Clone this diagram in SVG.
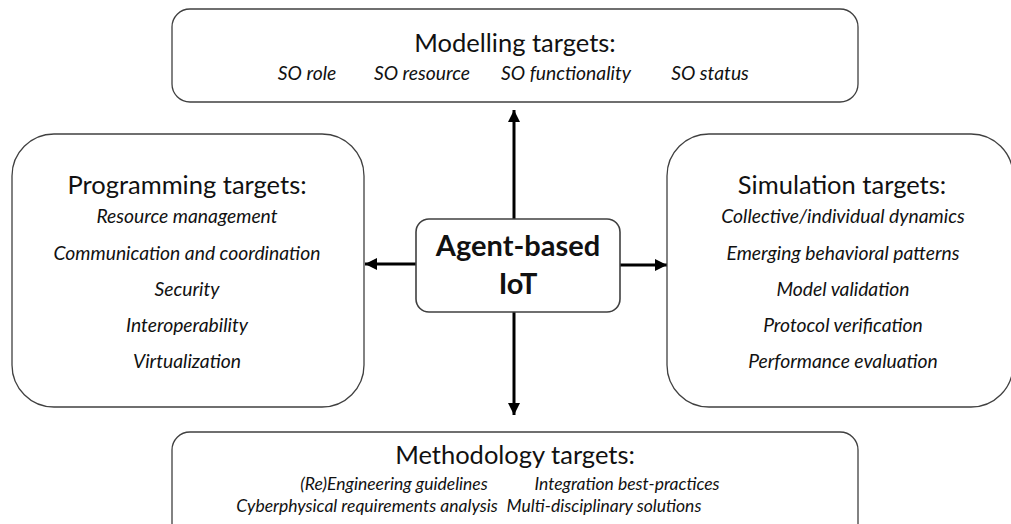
<svg xmlns="http://www.w3.org/2000/svg" width="1011" height="524" viewBox="0 0 1011 524">
<defs>
<style>
.box{fill:#fff;stroke:#404040;stroke-width:1.3}
.title{font-family:Lato,"Open Sans",sans-serif;font-size:25.5px;fill:#111}
.item{font-family:Lato,"Open Sans",sans-serif;font-size:19.3px;font-style:italic;fill:#111}
.mitem{font-family:Lato,"Open Sans",sans-serif;font-size:17.5px;font-style:italic;fill:#111}
.core{font-family:Lato,"Open Sans",sans-serif;font-size:29px;font-weight:bold;fill:#111}
.conn{stroke:#000;stroke-width:3;fill:none}
</style>
<marker id="ah" viewBox="0 0 10 10" refX="10" refY="5" markerWidth="4" markerHeight="4" markerUnits="strokeWidth" orient="auto">
<path d="M0,0 L10,5 L0,10 z" fill="#000"/>
</marker>
</defs>
<rect width="1011" height="524" fill="#fff"/>
<g id="connectors">
<line class="conn" x1="514" y1="219" x2="514" y2="110" marker-end="url(#ah)"/>
<line class="conn" x1="514" y1="312" x2="514" y2="415" marker-end="url(#ah)"/>
<line class="conn" x1="416" y1="264" x2="365" y2="264" marker-end="url(#ah)"/>
<line class="conn" x1="620" y1="265" x2="667" y2="265" marker-end="url(#ah)"/>
</g>
<g id="modelling">
<rect class="box" x="172" y="9" width="686" height="93" rx="18"/>
<text class="title" x="515" y="52" text-anchor="middle">Modelling targets:</text>
<text class="item" x="307" y="80" text-anchor="middle">SO role</text>
<text class="item" x="422" y="80" text-anchor="middle">SO resource</text>
<text class="item" x="566" y="80" text-anchor="middle">SO functionality</text>
<text class="item" x="710" y="80" text-anchor="middle">SO status</text>
</g>
<g id="programming">
<rect class="box" x="12" y="134" width="352" height="273" rx="42"/>
<text class="title" x="187" y="194" text-anchor="middle">Programming targets:</text>
<text class="item" x="187" y="223" text-anchor="middle">Resource management</text>
<text class="item" x="187" y="260" text-anchor="middle">Communication and coordination</text>
<text class="item" x="187" y="296" text-anchor="middle">Security</text>
<text class="item" x="187" y="332" text-anchor="middle">Interoperability</text>
<text class="item" x="187" y="368" text-anchor="middle">Virtualization</text>
</g>
<g id="core">
<rect class="box" x="416" y="219" width="204" height="93" rx="13" style="stroke-width:1.6"/>
<text class="core" x="518" y="256" text-anchor="middle">Agent-based</text>
<text class="core" x="518" y="294" text-anchor="middle">IoT</text>
</g>
<g id="simulation">
<rect class="box" x="667" y="134" width="346" height="273" rx="42"/>
<text class="title" x="842" y="194" text-anchor="middle">Simulation targets:</text>
<text class="item" x="843" y="223" text-anchor="middle">Collective/individual dynamics</text>
<text class="item" x="843" y="260" text-anchor="middle">Emerging behavioral  patterns</text>
<text class="item" x="843" y="296" text-anchor="middle">Model validation</text>
<text class="item" x="843" y="332" text-anchor="middle">Protocol verification</text>
<text class="item" x="843" y="368" text-anchor="middle">Performance evaluation</text>
</g>
<g id="methodology">
<rect class="box" x="172" y="432" width="686" height="110" rx="18"/>
<text class="title" x="515" y="464" text-anchor="middle">Methodology targets:</text>
<text class="mitem" x="394" y="490" text-anchor="middle">(Re)Engineering guidelines</text>
<text class="mitem" x="627" y="490" text-anchor="middle">Integration best-practices</text>
<text class="mitem" x="367" y="512" text-anchor="middle">Cyberphysical requirements analysis</text>
<text class="mitem" x="604" y="512" text-anchor="middle">Multi-disciplinary solutions</text>
</g>
</svg>
